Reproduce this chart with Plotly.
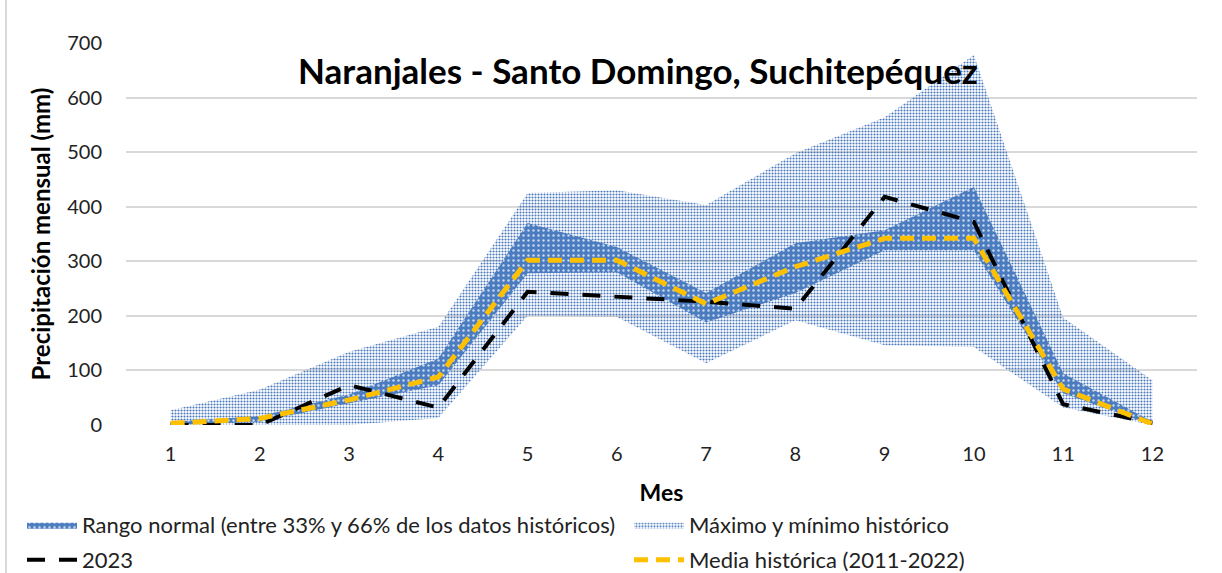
import plotly.graph_objects as go

months = [1, 2, 3, 4, 5, 6, 7, 8, 9, 10, 11, 12]
hist_max = [27, 65, 134, 180, 425, 430, 403, 498, 564, 678, 197, 82]
hist_min = [0, 0, 0, 13, 200, 198, 113, 192, 146, 143, 32, 0]
normal_upper = [6, 16, 56, 122, 370, 326, 242, 333, 357, 436, 95, 6]
normal_lower = [0, 6, 40, 73, 278, 280, 188, 242, 320, 320, 58, 0]
mean_hist = [3, 12, 46, 88, 302, 302, 222, 290, 342, 342, 66, 2]
y2023 = [0, 0, 73, 32, 244, 235, 226, 213, 418, 372, 38, 4]
y_ticks = [0, 100, 200, 300, 400, 500, 600, 700]

FONT = "Lato"

fig = go.Figure()

fig.add_trace(go.Scatter(x=months, y=hist_max, mode="lines", line=dict(width=0),
                         showlegend=False, hoverinfo="skip"))
fig.add_trace(go.Scatter(x=months, y=hist_min, mode="lines", line=dict(width=0),
                         fill="tonexty", fillcolor="rgba(255,255,255,0)",
                         fillpattern=dict(shape=".", fgcolor="#4a78bf", bgcolor="rgba(255,255,255,0)",
                                          size=3, solidity=0.4, fillmode="replace"),
                         name="Máximo y mínimo histórico", legend="legend2"))
fig.add_trace(go.Scatter(x=months, y=normal_upper, mode="lines", line=dict(width=0),
                         showlegend=False, hoverinfo="skip"))
fig.add_trace(go.Scatter(x=months, y=normal_lower, mode="lines", line=dict(width=0),
                         fill="tonexty", fillcolor="#4f80c0",
                         fillpattern=dict(shape=".", fgcolor="#c9d8ee", bgcolor="#4a7cbf",
                                          size=5, solidity=0.18, fillmode="replace"),
                         name="Rango normal (entre 33% y 66% de los datos históricos)",
                         legend="legend"))
fig.add_trace(go.Scatter(x=months, y=y2023, mode="lines",
                         line=dict(color="black", width=4, dash="18px,14px"),
                         name="2023", legend="legend3"))
fig.add_trace(go.Scatter(x=months, y=mean_hist, mode="lines",
                         line=dict(color="#FFC000", width=5, dash="14px,8px"),
                         name="Media histórica (2011-2022)", legend="legend4"))

W, H = 1222, 573
ml, mr, mt, mb = 126, 25, 43, 148
pw = W - ml - mr
ph = H - mt - mb


def px_x(x):
    return (x - ml) / pw


def px_y(y):
    return (H - mb - y) / ph


legend_common = dict(orientation="h", xanchor="left", yanchor="middle",
                     font=dict(family=FONT, size=22, color="#222"),
                     bgcolor="rgba(0,0,0,0)", itemwidth=50)

fig.update_layout(
    width=W, height=H,
    margin=dict(l=ml, r=mr, t=mt, b=mb, autoexpand=False),
    paper_bgcolor="white", plot_bgcolor="white",
    font=dict(family=FONT, color="#222"),
    title=dict(text="<b>Naranjales - Santo Domingo, Suchitepéquez</b>",
               x=px_x(638), xref="paper", xanchor="center",
               y=1 - 72 / H, yref="container", yanchor="middle",
               font=dict(family=FONT, size=35, color="black")),
    xaxis=dict(range=[0.5, 12.5], tickvals=months, ticktext=[str(m) for m in months],
               showgrid=False, zeroline=False, showline=False, ticks="",
               ticklabelstandoff=15,
               tickfont=dict(family=FONT, size=20, color="#222"),
               title=dict(text="<b>Mes</b>", font=dict(family=FONT, size=23, color="black"),
                          standoff=20)),
    yaxis=dict(range=[0, 700], tickvals=y_ticks, showgrid=True, gridcolor="#d9d9d9",
               gridwidth=2, zeroline=False, showline=False, ticks="",
               ticklabelstandoff=23,
               tickfont=dict(family=FONT, size=20, color="#222"),
               title=dict(text="<b>Precipitación mensual (mm)</b>",
                          font=dict(family=FONT, size=24, color="black"), standoff=9)),
    legend=dict(x=px_x(22), y=px_y(525), **legend_common),
    legend2=dict(x=px_x(629), y=px_y(525), **legend_common),
    legend3=dict(x=px_x(22), y=px_y(560), **legend_common),
    legend4=dict(x=px_x(629), y=px_y(560), **legend_common),
    shapes=[dict(type="rect", xref="paper", yref="paper",
                 x0=px_x(6), x1=px_x(W + 20),
                 y0=px_y(H + 20), y1=px_y(-20),
                 line=dict(color="#d9d9d9", width=2), layer="below")],
)

fig.write_html("out.html", post_script="document.body.style.margin='0';",
               config={"displayModeBar": False})
